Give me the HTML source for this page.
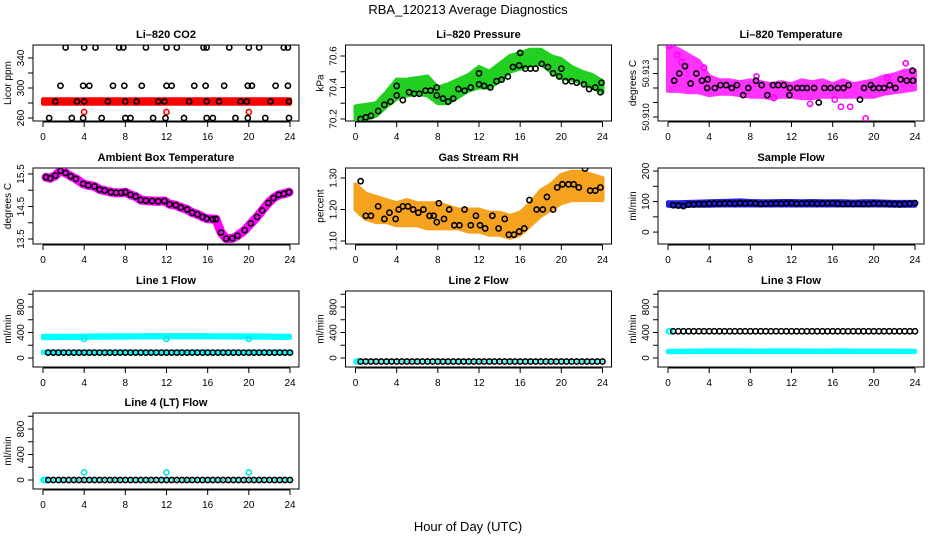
<!DOCTYPE html>
<html><head><meta charset="utf-8"><style>
html,body{margin:0;padding:0;background:#fff;}
svg{display:block;font-family:"Liberation Sans",sans-serif;}
</style></head><body>
<svg id="chart" width="936" height="540" viewBox="0 0 936 540">
<text x="468" y="14" text-anchor="middle" font-size="13">RBA_120213  Average Diagnostics</text>
<text x="468" y="531" text-anchor="middle" font-size="13">Hour of Day (UTC)</text>
</svg>
<script>
const H48=[0.5,1,1.5,2,2.5,3,3.5,4,4.5,5,5.5,6,6.5,7,7.5,8,8.5,9,9.5,10,10.5,11,11.5,12,12.5,13,13.5,14,14.5,15,15.5,16,16.5,17,17.5,18,18.5,19,19.5,20,20.5,21,21.5,22,22.5,23,23.5,24];
const HRS=[0,1,2,3,4,5,6,7,8,9,10,11,12,13,14,15,16,17,18,19,20,21,22,23,24];
const xTicks=[0,4,8,12,16,20,24];
// CO2
const co2Hours=[2.2,4,5.1,7.4,7.8,10,12,13,15.6,15.9,18.1,20,21,23.4,23.8, 1.7,3.9,4.5,6.8,7.9,9.6,12,12.5,14.7,15.8,17.6,19.9,20.3,22.6,23.8, 1.2,3.3,4,6.3,8,9.1,11.2,11.8,14.2,15.9,17.1,19.2,19.8,22.1,23.9, 0.6,2.8,3.9,5.7,8,8.5,10.7,11.9,13.7,15.9,16.5,18.7,19.9,21.6,23.9];
const co2Values=[354,354,354,354,354,354,354,354,354,354,354,354,354,354,354, 303,303,303,303,303,303,303,303,303,303,303,303,303,303,303, 282,282,282,282,282,282,282,282,282,282,282,282,282,282,282, 260,260,260,260,260,260,260,260,260,260,260,260,260,260,260];
const co2BandLo=[279,279,279,279,279,279,279,279,279,279,279,279,279,279,279,279,279,279,279,279,279,279,279,279,279];
const co2BandHi=[285,285,285,285,285,285,285,285,285,285,285,285,285,285,285,285,285,285,285,285,285,285,285,285,285];
const co2RedHours=[4,12,20];
const co2RedValues=[268,268,268];
// Pressure
const presHours=[0.5,1,1.5,2.2,2.8,3.4,4,4,4.6,5.2,5.7,6.2,6.8,7.3,7.9,7.9,8.5,9,9.5,10,10.6,11.2,12,12,12.5,13.1,13.7,14.2,14.8,15.3,15.9,16,16.5,17,17.5,18.1,18.7,19.2,19.8,20,20.4,21,21.5,22.2,22.7,23.3,23.8,23.9];
const presValues=[70.2,70.21,70.22,70.25,70.29,70.31,70.35,70.41,70.32,70.37,70.36,70.36,70.38,70.38,70.35,70.4,70.33,70.31,70.33,70.39,70.38,70.4,70.42,70.49,70.41,70.4,70.44,70.45,70.47,70.53,70.54,70.62,70.52,70.52,70.52,70.55,70.53,70.49,70.47,70.52,70.44,70.44,70.43,70.42,70.39,70.4,70.37,70.43];
const presLo=[70.2,70.2,70.22,70.28,70.33,70.35,70.36,70.35,70.3,70.3,70.34,70.38,70.4,70.4,70.44,70.5,70.52,70.54,70.55,70.5,70.46,70.45,70.43,70.4,70.37];
const presHi=[70.28,70.29,70.3,70.37,70.45,70.45,70.46,70.47,70.4,70.42,70.45,70.48,70.53,70.5,70.55,70.6,70.62,70.64,70.64,70.6,70.58,70.53,70.5,70.48,70.44];
// Li-820 temperature
const tempHours=[0.6,1.1,1.65,2.2,2.75,3.3,3.8,3.85,4.55,5.1,5.65,6.2,6.7,7.3,7.8,8.55,9.1,9.65,10.2,10.7,11.25,11.8,11.85,12.55,13.05,13.5,14.2,14.65,15.2,15.8,16.5,17.05,17.55,18.65,19.05,19.7,19.95,20.5,21,21.55,22.1,22.6,23.2,23.75,23.8];
const tempValues=[50.91188,50.91225,50.91263,50.91173,50.91225,50.91188,50.9115,50.91195,50.9115,50.91165,50.91165,50.9115,50.91165,50.91113,50.9115,50.91188,50.91165,50.91113,50.91165,50.91165,50.91165,50.91113,50.9115,50.9115,50.9115,50.9115,50.9115,50.91075,50.9115,50.9115,50.9115,50.9115,50.91165,50.9109,50.9115,50.91165,50.9115,50.9115,50.9115,50.91165,50.9115,50.91195,50.91188,50.9124,50.91188];
const tempLo=[50.91135,50.91135,50.91128,50.91128,50.91113,50.9112,50.9112,50.91113,50.91105,50.91105,50.91098,50.91105,50.91105,50.91098,50.91098,50.91105,50.91105,50.91105,50.91105,50.91105,50.91105,50.9112,50.91128,50.91135,50.91143];
const tempHi=[50.91375,50.9135,50.9132,50.9129,50.9121,50.9119,50.9119,50.9118,50.9119,50.9118,50.9117,50.9118,50.9117,50.9119,50.9118,50.9119,50.9117,50.9119,50.9117,50.9118,50.9119,50.9121,50.9122,50.9124,50.9124];
const tempOutHours=[0.1,1.3,0.9,3.5,8.6,13.8,16.8,17.7,19.2,23.1,21.3,16.2,10.3];
const tempOutValues=[50.91368,50.91285,50.9132,50.91255,50.9121,50.91068,50.91053,50.91053,50.90993,50.91278,50.91203,50.9109,50.91098];
// Ambient box temperature
const ambHours=[0.3,0.7,1.2,1.7,2.2,2.7,3.2,3.9,4.4,5,5.5,6,6.6,7.1,7.6,8,8.5,9,9.5,10,10.6,11.2,11.8,12.3,12.9,13.4,14,14.5,15,15.5,15.9,16.5,16.8,17.3,17.8,18.4,18.9,19.6,20.2,20.8,21.3,21.9,22.4,22.9,23.4,23.9];
const ambValues=[15.4,15.37,15.45,15.6,15.53,15.43,15.35,15.2,15.15,15.12,15.02,14.99,14.94,14.92,14.92,14.94,14.86,14.81,14.7,14.68,14.67,14.66,14.67,14.57,14.54,14.47,14.41,14.31,14.26,14.18,14.13,14.11,14.11,13.7,13.51,13.52,13.6,13.77,13.98,14.18,14.38,14.61,14.76,14.86,14.89,14.94];
// Gas stream RH
const rhHours=[0.5,1,1.5,2.2,2.8,3.3,3.9,4.2,4.6,5.1,5.6,6.1,6.6,7.2,7.6,7.9,8.1,8.6,9.1,9.6,10.1,10.6,11.2,11.7,12.1,12.6,13.3,13.9,14.5,14.9,15.4,15.9,16.4,16.9,17.6,18.2,18.6,19.2,19.6,20.1,20.7,21.2,21.7,22.3,22.8,23.3,23.8];
const rhValues=[1.29,1.18,1.18,1.21,1.17,1.19,1.17,1.2,1.21,1.21,1.2,1.19,1.2,1.18,1.18,1.16,1.22,1.17,1.2,1.15,1.15,1.2,1.15,1.18,1.15,1.14,1.18,1.14,1.17,1.12,1.12,1.13,1.14,1.23,1.2,1.2,1.24,1.2,1.27,1.28,1.28,1.28,1.27,1.33,1.26,1.26,1.27];
const rhLo=[1.2,1.17,1.16,1.16,1.15,1.15,1.15,1.14,1.14,1.14,1.14,1.13,1.13,1.12,1.12,1.11,1.12,1.15,1.18,1.2,1.22,1.23,1.23,1.23,1.23];
const rhHi=[1.28,1.25,1.24,1.23,1.22,1.23,1.22,1.22,1.22,1.21,1.2,1.2,1.2,1.19,1.19,1.18,1.19,1.22,1.26,1.28,1.31,1.32,1.32,1.31,1.3];
// Sample flow
const sfValues=[88,87,85,90,91,92,92,93,94,93,94,94,93,95,94,95,94,92,93,93,94,93,94,95,93,94,94,94,93,94,94,95,93,92,93,92,93,92,92,94,93,93,92,92,91,92,93,95];
const sfLo=[86,84,86,86,86,87,87,87,87,87,87,87,87,87,87,87,87,87,87,87,87,87,86,86,86];
const sfHi=[98,98,99,100,101,102,103,104,102,101,101,102,102,101,102,101,101,101,100,101,101,100,99,99,99];
// Line flows
const l1Black=[85,85,85,85,85,85,85,85,85,85,85,85,85,85,85,85,85,85,85,85,85,85,85,85,85,85,85,85,85,85,85,85,85,85,85,85,85,85,85,85,85,85,85,85,85,85,85,85];
const l1HiLo=[310,312,312,314,316,318,318,320,320,322,322,322,324,324,324,324,324,322,322,320,320,318,318,316,316];
const l1HiHi=[350,348,348,350,352,354,354,356,356,358,358,360,360,360,360,360,358,358,356,356,354,354,352,352,350];
const l1LoLo=[80,80,80,80,80,80,80,80,80,80,80,80,80,80,80,80,80,80,80,80,80,80,80,80,80];
const l1LoHi=[100,100,100,100,100,100,100,100,100,100,100,100,100,100,100,100,100,100,100,100,100,100,100,100,100];
const l1SpikeHours=[4,12,20];
const l1SpikeValues=[300,300,300];
const l2Black=[-55,-55,-55,-55,-55,-55,-55,-55,-55,-55,-55,-55,-55,-55,-55,-55,-55,-55,-55,-55,-55,-55,-55,-55,-55,-55,-55,-55,-55,-55,-55,-55,-55,-55,-55,-55,-55,-55,-55,-55,-55,-55,-55,-55,-55,-55,-55,-55];
const l3Black=[420,420,420,420,420,420,420,420,420,420,420,420,420,420,420,420,420,420,420,420,420,420,420,420,420,420,420,420,420,420,420,420,420,420,420,420,420,420,420,420,420,420,420,420,420,420,420,420];
const l3CyLo=[90,90,92,92,92,92,92,92,92,92,92,92,92,92,92,92,92,92,92,92,92,92,92,92,92];
const l3CyHi=[115,115,118,118,120,120,120,120,118,118,120,120,120,120,118,118,120,120,118,118,118,118,116,116,115];
const l4Black=[0,0,0,0,0,0,0,0,0,0,0,0,0,0,0,0,0,0,0,0,0,0,0,0,0,0,0,0,0,0,0,0,0,0,0,0,0,0,0,0,0,0,0,0,0,0,0,0];
const l4SpikeHours=[4,12,20];
const l4SpikeValues=[120,120,120];
const flowTicks=[0,200,400,600,800,1000];
const flowTickLabels=["0","","400","","800",""];

const NS="http://www.w3.org/2000/svg";
const svg=document.getElementById('chart');
function mk(tag,attrs,parent){const e=document.createElementNS(NS,tag);for(const k in attrs)e.setAttribute(k,attrs[k]);(parent||svg).appendChild(e);return e;}
const colLeft=[33,345.5,658],rowTop=[45,168,291,413],BW=266,BH=76;

function panel(name,title,col,row,ymin,ymax,yTicks,yLabels,ylab,tfs){
  const L=colLeft[col],T=rowTop[row];
  const g=mk('g',{});
  
  
  const p={g:g,L:L,T:T,
    x:h=>L+10+h*(247/24),
    y:v=>T+BH-(v-ymin)/(ymax-ymin)*BH};
  const t=mk('text',{x:L+BW/2,y:T-7,'text-anchor':'middle','font-size':11,'font-weight':'bold'},g);
  t.textContent=title;
  
  
  const box=mk('rect',{x:L,y:T,width:BW,height:BH,fill:'none',stroke:'#000','stroke-width':1},g);
  
  
  const xa=mk('g',{},g);
  
  
  mk('line',{x1:p.x(0),x2:p.x(24),y1:T+BH+1,y2:T+BH+1,stroke:'#000'},xa);
  xTicks.forEach(v=>{
    mk('line',{x1:p.x(v),x2:p.x(v),y1:T+BH+1,y2:T+BH+6,stroke:'#000'},xa);
    const tl=mk('text',{x:p.x(v),y:T+BH+19,'text-anchor':'middle','font-size':10},xa);
    tl.textContent=v;
    
    
  });
  const ya=mk('g',{},g);
  
  
  mk('line',{x1:L,x2:L,y1:p.y(yTicks[0]),y2:p.y(yTicks[yTicks.length-1]),stroke:'#000'},ya);
  yTicks.forEach((v,i)=>{
    const yy=p.y(v);
    mk('line',{x1:L-5,x2:L,y1:yy,y2:yy,stroke:'#000'},ya);
    if(yLabels[i]){
      const tl=mk('text',{x:L-9,y:yy,'text-anchor':'middle','font-size':tfs||10,transform:`rotate(-90 ${L-9} ${yy})`},ya);
      tl.textContent=yLabels[i];
      
      
    }
  });
  const yl=mk('text',{x:L-22,y:T+BH/2,'text-anchor':'middle','font-size':10,transform:`rotate(-90 ${L-22} ${T+BH/2})`},g);
  yl.textContent=ylab;
  
  
  p.clip='clip-'+name;
  const cp=mk('clipPath',{id:p.clip},g);
  mk('rect',{x:L,y:T,width:BW,height:BH},cp);
  p.d=mk('g',{'clip-path':`url(#${p.clip})`},g);
  return p;
}
function band(p,hours,lo,hi,color,nm,op){
  let d='';
  hours.forEach((h,i)=>{d+=(i?'L':'M')+p.x(h).toFixed(1)+' '+p.y(hi[i]).toFixed(1);});
  for(let i=hours.length-1;i>=0;i--)d+='L'+p.x(hours[i]).toFixed(1)+' '+p.y(lo[i]).toFixed(1);
  const e=mk('path',{d:d+'Z',fill:color,stroke:color,'stroke-width':4,'stroke-linejoin':'round','opacity':op||1},p.d);
  
  
}
function pts(p,hours,vals,color,nm,r,w){
  const g=mk('g',{},p.d);
  
  
  hours.forEach((h,i)=>{
    const c=mk('circle',{cx:p.x(h),cy:p.y(vals[i]),r:r||2.6,fill:'none',stroke:color,'stroke-width':w||1.6},g);
    
    
  });
}
function line(p,hours,vals,color,width,nm){
  const e=mk('polyline',{points:hours.map((h,i)=>p.x(h)+','+p.y(vals[i])).join(' '),fill:'none',stroke:color,'stroke-width':width,'stroke-linejoin':'round','stroke-linecap':'round'},p.d);
  
  
}

// Panels
let p=panel('co2','Li\u2013820 CO2',0,0,256,357.3,[260,280,300,320,340],['260','','300','','340'],'Licor ppm');
band(p,HRS,co2BandLo,co2BandHi,'#ff0000','co2-red-band');
pts(p,co2RedHours,co2RedValues,'#ff0000','co2-red-points');
pts(p,co2Hours,co2Values,'#000','co2-black-points');

p=panel('pressure','Li\u2013820 Pressure',1,0,70.187,70.67,[70.2,70.3,70.4,70.5,70.6],['70.2','','70.4','','70.6'],'kPa');
band(p,HRS,presLo,presHi,'#22d022','pressure-green-band');
pts(p,presHours,presValues,'#000','pressure-black-points');

p=panel('li820-temp','Li\u2013820 Temperature',2,0,50.909793,50.913725,[50.91,50.91075,50.9115,50.91225,50.913],['50.910','','','50.913',''],'degrees C',9);
band(p,HRS,tempLo,tempHi,'#ff00ff','temp-magenta-band',0.8);
pts(p,tempOutHours,tempOutValues,'#ff00ff','temp-magenta-points');
pts(p,tempHours,tempValues,'#000','temp-black-points');

p=panel('ambient','Ambient Box Temperature',0,1,13.346,15.684,[13.5,14,14.5,15,15.5],['13.5','','14.5','','15.5'],'degrees C');
line(p,ambHours,ambValues,'#ff00ff',9,'ambient-magenta-trace');
pts(p,ambHours,ambValues,'#000','ambient-black-points');

p=panel('rh','Gas Stream RH',1,1,1.0905,1.3318,[1.1,1.2,1.3],['1.10','1.20','1.30'],'percent');
band(p,HRS,rhLo,rhHi,'#f5a21e','rh-orange-band');
pts(p,rhHours,rhValues,'#000','rh-black-points');

p=panel('sample-flow','Sample Flow',2,1,-39,210,[0,50,100,150,200],['0','','100','','200'],'ml/min');
band(p,HRS,sfLo,sfHi,'#1f1fe6','sample-flow-blue-band');
pts(p,H48,sfValues,'#000','sample-flow-black-points');

p=panel('line1','Line 1 Flow',0,2,-141,1051,flowTicks,flowTickLabels,'ml/min');
band(p,HRS,l1HiLo,l1HiHi,'#00ffff','line1-cyan-high-band');
band(p,HRS,l1LoLo,l1LoHi,'#00ffff','line1-cyan-low-band');
pts(p,l1SpikeHours,l1SpikeValues,'#00e5e5','line1-cyan-points');
pts(p,H48,l1Black,'#000','line1-black-points');

p=panel('line2','Line 2 Flow',1,2,-141,1051,flowTicks,flowTickLabels,'ml/min');
pts(p,[0.1,0.2,0.3],[-55,-55,-55],'#00ffff','line2-cyan-points');
pts(p,H48,l2Black,'#000','line2-black-points');
pts(p,H48,l2Black,'#00ffff','line2-cyan-overlay',0.8,1);

p=panel('line3','Line 3 Flow',2,2,-141,1051,flowTicks,flowTickLabels,'ml/min');
band(p,HRS,l3CyLo,l3CyHi,'#00ffff','line3-cyan-band');
pts(p,[0.1,0.2],[420,420],'#00ffff','line3-cyan-points');
pts(p,H48,l3Black,'#000','line3-black-points');

p=panel('line4','Line 4 (LT) Flow',0,3,-141,1051,flowTicks,flowTickLabels,'ml/min');
pts(p,[0.05,0.15,0.25],[0,0,0],'#00ffff','line4-cyan-start');
pts(p,l4SpikeHours,l4SpikeValues,'#00e5e5','line4-cyan-points');
pts(p,H48,l4Black,'#000','line4-black-points');
pts(p,H48,l4Black,'#00ffff','line4-cyan-overlay',0.8,1);
</script>
</body></html>
